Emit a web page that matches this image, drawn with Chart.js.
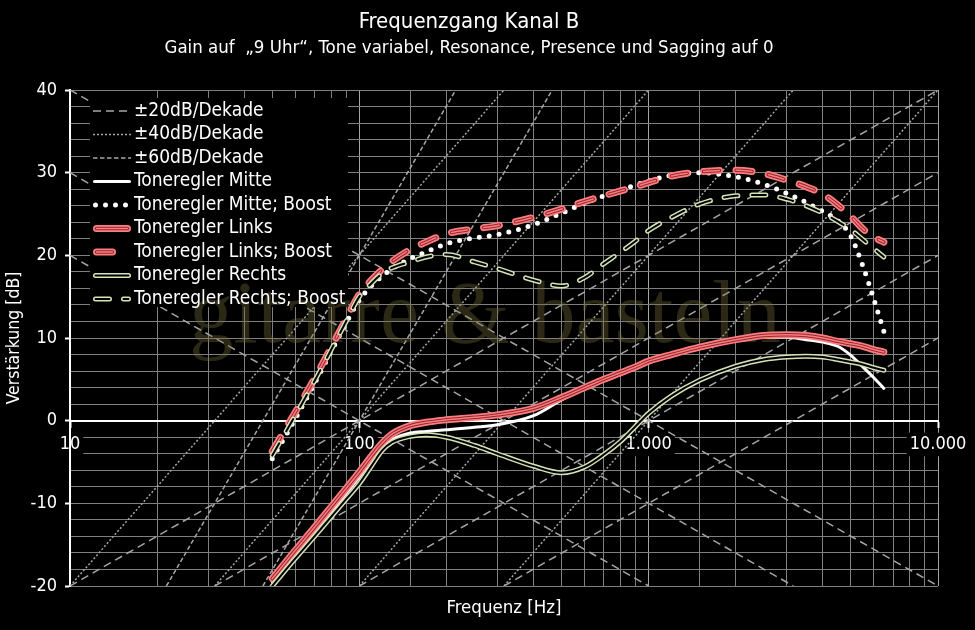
<!DOCTYPE html>
<html>
<head>
<meta charset="utf-8">
<title>Frequenzgang Kanal B</title>
<script src="https://cdn.jsdelivr.net/npm/chart.js@4/dist/chart.umd.min.js"></script>
<style>
  html, body { margin: 0; padding: 0; background: #000; }
  canvas { display: block; }
</style>
</head>
<body>
<canvas id="frequencyChart" width="975" height="630"></canvas>
<script>
// measured frequencies (Hz)
const freqs = [50, 60, 70, 80, 90, 100, 110, 120, 130, 150, 170, 200, 250, 300, 400, 500, 600, 700, 800, 900,
  1000, 1200, 1500, 2000, 2500, 3000, 3500, 4000, 4500, 5000, 5500, 6000, 6500];

// gain in dB
const mitte = [-19.5, -16.2, -13.4, -11.0, -8.8, -6.8, -4.8, -3.3, -2.3, -1.5, -1.3, -1.1, -0.8, -0.5, 0.6, 2.5, 3.8, 4.8, 5.6, 6.3,
  7.0, 7.9, 8.8, 9.7, 10.1, 10.1, 9.8, 9.5, 9.0, 7.9, 6.5, 5.2, 3.9];
const mitteBoost = [-4.6, 0.2, 4.5, 8.4, 11.8, 14.6, 16.3, 17.5, 18.4, 19.6, 20.4, 21.4, 22.1, 22.5, 23.7, 25.1, 26.3, 27.2, 27.9, 28.5,
  29.0, 29.7, 30.0, 29.5, 28.6, 27.5, 26.4, 25.3, 24.2, 22.3, 18.7, 14.7, 10.8];
const links = [-19.1, -15.7, -12.9, -10.4, -8.2, -6.2, -4.3, -2.7, -1.6, -0.6, -0.2, 0.1, 0.4, 0.7, 1.5, 2.8, 4.0, 5.0, 5.8, 6.5,
  7.2, 8.0, 8.9, 9.8, 10.3, 10.4, 10.3, 10.0, 9.6, 9.3, 9.0, 8.6, 8.3];
const linksBoost = [-3.7, 1.0, 5.1, 8.9, 12.3, 15.3, 17.0, 18.3, 19.3, 20.7, 21.6, 22.6, 23.2, 23.6, 24.6, 25.6, 26.5, 27.2, 27.8, 28.3,
  28.8, 29.6, 30.1, 30.3, 29.9, 29.1, 28.3, 27.4, 26.1, 24.7, 23.2, 22.2, 21.6];
const rechts = [-20.0, -16.7, -14.0, -11.6, -9.5, -7.6, -5.5, -3.6, -2.6, -1.9, -1.7, -2.0, -3.0, -4.0, -5.5, -6.3, -5.6, -4.1, -2.5, -0.7,
  0.9, 3.0, 4.9, 6.6, 7.4, 7.7, 7.8, 7.7, 7.4, 7.1, 6.8, 6.4, 6.1];
const rechtsBoost = [-4.2, 0.6, 4.8, 8.6, 12.0, 15.0, 16.6, 17.8, 18.5, 19.2, 19.8, 20.1, 19.2, 18.4, 17.0, 16.3, 17.3, 19.0, 20.4, 21.7,
  23.0, 24.6, 26.2, 27.2, 27.3, 26.8, 26.0, 25.1, 24.1, 23.1, 21.9, 20.8, 19.8];

// reference slopes: end points [Hz, dB]
const lines20 = [
  [[10, -20], [10000, 40]], [[31.62, -20], [10000, 30]], [[100, -20], [10000, 20]], [[316.2, -20], [10000, 10]],
  [[10, 40], [10000, -20]], [[10, 30], [3162, -20]], [[10, 20], [1000, -20]]
];
const lines40 = [[[10, -20], [316.2, 40]], [[31.62, -20], [1000, 40]], [[100, -20], [3162, 40]], [[316.2, -20], [10000, 40]]];
const lines60 = [[[21.54, -20], [215.4, 40]], [[46.42, -20], [464.2, 40]]];

const FONT = "'DejaVu Sans Condensed', 'DejaVu Sans', sans-serif";
const PINK = '#ff7c80';
const PINK_DARK = '#8e2a2e';
const GREEN = '#d5e3b8';
const DIAG = '#a6a6a6';
const GRID = '#7f7f7f';
const GRID_MAJOR = '#a6a6a6';

Chart.defaults.font.family = FONT;
Chart.defaults.color = '#fff';

const pinkInner = [{ color: PINK_DARK, width: 3.5 }, { color: PINK, width: 1.5 }];
const greenInner = [{ color: '#000', width: 2 }];

const curves = [
  { label: 'Toneregler Mitte', values: mitte, color: '#fff', width: 3, dash: [], inner: [] },
  { label: 'Toneregler Mitte; Boost', values: mitteBoost, color: '#fff', width: 5, dash: [0, 10], inner: [] },
  { label: 'Toneregler Links', values: links, color: PINK, width: 7, dash: [], inner: pinkInner },
  { label: 'Toneregler Links; Boost', values: linksBoost, color: PINK, width: 7, dash: [16, 16.5], inner: pinkInner },
  { label: 'Toneregler Rechts', values: rechts, color: GREEN, width: 5, dash: [], inner: greenInner },
  { label: 'Toneregler Rechts; Boost', values: rechtsBoost, color: GREEN, width: 5, dash: [14, 14], inner: greenInner }
];

const slopes = [
  { label: '±20dB/Dekade', lines: lines20, dash: [8, 5] },
  { label: '±40dB/Dekade', lines: lines40, dash: [2, 2] },
  { label: '±60dB/Dekade', lines: lines60, dash: [4.5, 2.5] }
];

const isDecade = v => Math.abs(Math.log10(v) - Math.round(Math.log10(v))) < 1e-9;
const fmtThousands = v => String(Math.round(v)).replace(/\B(?=(\d{3})+(?!\d))/g, '.');

const datasets = [];
curves.forEach((c, i) => {
  datasets.push({
    label: c.label,
    data: freqs.map((f, k) => ({ x: f, y: c.values[k] })),
    borderColor: c.color,
    borderWidth: c.width,
    borderDash: c.dash,
    borderCapStyle: 'round',
    borderJoinStyle: 'round',
    cubicInterpolationMode: 'monotone',
    pointRadius: 0,
    fill: false,
    xAxisID: 'x',
    yAxisID: 'y',
    order: curves.length - i,
    inner: c.inner,
    isCurve: true
  });
});
slopes.forEach(s => {
  s.lines.forEach(seg => {
    datasets.push({
      label: s.label,
      data: seg.map(p => ({ x: p[0], y: p[1] })),
      borderColor: DIAG,
      borderWidth: 1.5,
      borderDash: s.dash,
      pointRadius: 0,
      fill: false,
      xAxisID: 'x',
      yAxisID: 'y',
      order: 20
    });
  });
});

function strokeSample(ctx, x0, x1, y, style) {
  const layers = [{ color: style.color, width: style.width }].concat(style.inner || []);
  layers.forEach(l => {
    ctx.beginPath();
    ctx.strokeStyle = l.color;
    ctx.lineWidth = l.width;
    ctx.lineCap = style.cap;
    ctx.setLineDash(style.dash);
    ctx.moveTo(x0, y);
    ctx.lineTo(x1, y);
    ctx.stroke();
  });
}

const chartDecor = {
  id: 'chartDecor',
  beforeDraw(chart) {
    const ctx = chart.ctx;
    ctx.save();
    ctx.fillStyle = '#000';
    ctx.fillRect(0, 0, chart.width, chart.height);
    ctx.restore();
    chart.$legendBoxDone = false;
  },
  beforeDatasetDraw(chart, args) {
    const ds = chart.data.datasets[args.index];
    if (!ds.isCurve || chart.$legendBoxDone) return;
    chart.$legendBoxDone = true;
    const a = chart.chartArea;
    const ctx = chart.ctx;
    ctx.save();
    // legend background
    ctx.fillStyle = '#000';
    ctx.fillRect(a.left + 20, a.top + 8, 258, 209);
    // watermark
    ctx.font = '88px "Liberation Serif", serif';
    ctx.fillStyle = 'rgba(118, 112, 62, 0.36)';
    ctx.textAlign = 'center';
    ctx.textBaseline = 'alphabetic';
    ctx.fillText('gitarre & basteln', a.left + 415, a.top + 252);
    ctx.restore();
  },
  afterDatasetDraw(chart, args) {
    const ds = chart.data.datasets[args.index];
    if (!ds.inner || !ds.inner.length) return;
    const el = args.meta.dataset;
    const a = chart.chartArea;
    const ctx = chart.ctx;
    const saved = el.options;
    ctx.save();
    ctx.beginPath();
    ctx.rect(a.left, a.top, a.right - a.left, a.bottom - a.top);
    ctx.clip();
    ds.inner.forEach(s => {
      el.options = Object.assign({}, saved, { borderColor: s.color, borderWidth: s.width });
      el.draw(ctx, a);
    });
    ctx.restore();
    el.options = saved;
  },
  afterDatasetsDraw(chart) {
    const a = chart.chartArea;
    const ctx = chart.ctx;
    const rows = slopes.map(s => ({ label: s.label, color: DIAG, width: 1.5, dash: s.dash, cap: 'butt', inner: [] }))
      .concat(curves.map(c => ({ label: c.label, color: c.color, width: c.width, dash: c.dash, cap: 'round', inner: c.inner })));
    ctx.save();
    ctx.font = '19px ' + FONT;
    ctx.textBaseline = 'middle';
    ctx.textAlign = 'left';
    rows.forEach((r, i) => {
      const y = a.top + 21 + i * 23.5;
      const pad = r.cap === 'round' ? r.width / 2 : 0;
      strokeSample(ctx, a.left + 23 + pad, a.left + 61 - pad, y, r);
      ctx.setLineDash([]);
      ctx.fillStyle = '#fff';
      ctx.fillText(r.label, a.left + 64, y);
    });
    ctx.restore();
  }
};

new Chart(document.getElementById('frequencyChart'), {
  type: 'line',
  data: { datasets: datasets },
  options: {
    responsive: false,
    animation: false,
    events: [],
    layout: { padding: { left: 0, right: 37, top: 0, bottom: 0 } },
    plugins: {
      legend: { display: false },
      tooltip: { enabled: false },
      title: {
        display: true,
        text: 'Frequenzgang Kanal B',
        color: '#fff',
        font: { size: 22, weight: 'normal', lineHeight: 1.2 },
        padding: { top: 8.8, bottom: 0 }
      },
      subtitle: {
        display: true,
        text: 'Gain auf  „9 Uhr“, Tone variabel, Resonance, Presence und Sagging auf 0',
        color: '#fff',
        font: { size: 18.5, lineHeight: 1.2 },
        padding: { top: 1.7, bottom: 30.9 }
      }
    },
    scales: {
      x: {
        type: 'logarithmic',
        min: 10,
        max: 10000,
        position: { y: 0 },
        z: 1,
        ticks: {
          autoSkip: false,
          maxRotation: 0,
          color: '#fff',
          font: { size: 18 },
          padding: 7,
          callback: v => (isDecade(v) ? fmtThousands(v) : ''),
          showLabelBackdrop: ctx => !!ctx.tick && isDecade(ctx.tick.value),
          backdropColor: '#000',
          backdropPadding: { x: 3, y: 1 }
        },
        grid: {
          color: ctx => (ctx.tick && isDecade(ctx.tick.value) ? GRID_MAJOR : GRID),
          lineWidth: 1,
          tickLength: 6,
          tickWidth: 2,
          tickColor: ctx => (ctx.tick && isDecade(ctx.tick.value) ? '#fff' : 'rgba(0,0,0,0)')
        },
        border: { color: '#fff', width: 2 }
      },
      xt: {
        type: 'linear',
        position: 'bottom',
        min: 0,
        max: 1,
        ticks: { display: false },
        grid: { display: false, drawTicks: false },
        border: { display: false },
        title: {
          display: true,
          text: 'Frequenz [Hz]',
          color: '#fff',
          font: { size: 18.5 },
          padding: { top: 0, bottom: 10.6 }
        },
        afterFit: s => { s.height = 44; }
      },
      y: {
        type: 'linear',
        min: -20,
        max: 40,
        ticks: {
          stepSize: 2,
          autoSkip: false,
          color: '#fff',
          font: { size: 18 },
          padding: 8,
          callback: v => (v % 10 === 0 ? String(v) : '')
        },
        grid: {
          color: GRID,
          lineWidth: 1,
          tickLength: 5,
          tickWidth: 2,
          tickColor: ctx => (ctx.tick && ctx.tick.value % 10 === 0 ? '#fff' : 'rgba(0,0,0,0)')
        },
        border: { color: '#fff', width: 2 },
        title: {
          display: true,
          text: 'Verstärkung [dB]',
          color: '#fff',
          font: { size: 17.5 },
          padding: { top: 3.5, bottom: 0 }
        },
        afterFit: s => { s.width = 70; }
      }
    }
  },
  plugins: [chartDecor]
});
</script>
</body>
</html>
